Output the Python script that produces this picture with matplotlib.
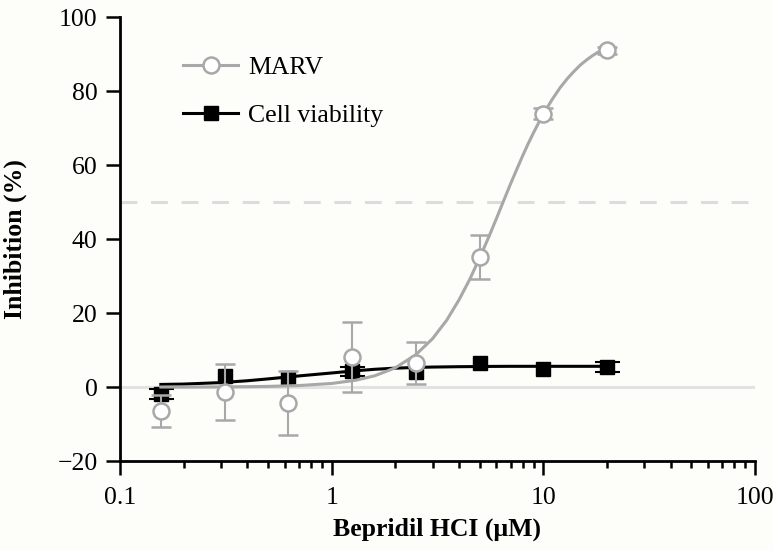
import matplotlib
matplotlib.use('Agg')
import matplotlib.pyplot as plt
from matplotlib.lines import Line2D
from matplotlib.ticker import FixedLocator, LogLocator, NullFormatter

# measured points (concentration in uM)
conc = [0.156, 0.3125, 0.625, 1.25, 2.5, 5, 10, 20]
marv_mean = [-6.5, -1.4, -4.3, 8.1, 6.5, 35.2, 73.9, 91.0]
marv_err = [4.3, 7.5, 8.6, 9.4, 5.6, 6.0, 1.5, 1.0]
cell_mean = [-1.8, 2.9, 2.4, 4.3, 4.1, 6.6, 4.8, 5.4]
cell_err = [1.4, 0.5, 0.5, 1.2, 0.5, 0.5, 0.5, 1.3]

# fitted curves
curve_x = [0.156, 0.2, 0.3, 0.4, 0.5, 0.7, 1.0, 1.3, 1.6, 2.0, 2.5, 3.0, 3.5, 4.0,
           4.5, 5.0, 5.5, 6.0, 6.5, 7.0, 7.5, 8.0, 8.5, 9.0, 9.5, 10, 11, 12, 13, 14,
           15, 16, 17, 18, 19, 20]
marv_fit = [0.0, 0.0, 0.05, 0.1, 0.17, 0.4, 0.96, 1.84, 3.05, 5.2, 8.75, 13.1, 18.1, 23.6,
            29.2, 34.9, 40.3, 45.5, 50.4, 54.9, 58.9, 62.6, 65.9, 68.8, 71.4, 73.8, 77.7,
            80.9, 83.4, 85.4, 87.1, 88.4, 89.5, 90.4, 91.2, 91.9]
cell_fit = [0.7, 0.8, 1.2, 1.7, 2.2, 3.0, 3.8, 4.4, 4.8, 5.1, 5.3, 5.4, 5.45, 5.5,
            5.52, 5.55, 5.57, 5.58, 5.59, 5.6, 5.6, 5.6, 5.6, 5.6, 5.6, 5.6, 5.6,
            5.6, 5.6, 5.6, 5.6, 5.6, 5.6, 5.6, 5.6, 5.6]

x_ticks = [0.1, 1, 10, 100]
x_tick_labels = ['0.1', '1', '10', '100']
y_ticks = [-20, 0, 20, 40, 60, 80, 100]

grey = '#a8a8a8'
bg = '#fdfdfa'
fs = 18.5

plt.rcParams['font.family'] = ['Liberation Serif', 'DejaVu Serif']
plt.rcParams['axes.unicode_minus'] = True

fig = plt.figure(figsize=(7.73, 5.51), dpi=100, facecolor=bg)
ax = fig.add_axes([0.1552, 0.1633, 0.8215, 0.8057], facecolor=bg)

# reference lines
ax.axhline(0, color='#e2e2e0', lw=2.2, zorder=1)
ax.axhline(50, color='#dcdcda', lw=2.2, dashes=(5.5, 4.5), zorder=1)

# cell viability - bars smaller than the marker are hidden behind it
ax.plot(curve_x, cell_fit, color='black', lw=2.2, zorder=3)
shown = [i for i, e in enumerate(cell_err) if e > 1.0]
ax.errorbar([conc[i] for i in shown], [cell_mean[i] for i in shown],
            yerr=[cell_err[i] for i in shown], fmt='none', ecolor='black',
            elinewidth=1.5, capsize=9, capthick=1.5, zorder=3)
ax.plot(conc, cell_mean, 's', color='black', ms=9.5, zorder=4)

# MARV
ax.plot(curve_x, marv_fit, color=grey, lw=2.2, zorder=5)
ax.errorbar(conc, marv_mean, yerr=marv_err, fmt='o', color=grey, mfc='white', mec=grey,
            mew=1.8, ms=11.5, elinewidth=1.5, capsize=7.5, capthick=1.5, zorder=6)

ax.set_xscale('log')
ax.set_xlim(0.1, 100)
ax.set_ylim(-20, 100)
ax.xaxis.set_major_locator(FixedLocator(x_ticks))
ax.set_xticklabels(x_tick_labels)
ax.xaxis.set_minor_locator(LogLocator(base=10, subs=range(2, 10)))
ax.xaxis.set_minor_formatter(NullFormatter())
ax.set_yticks(y_ticks)

for side in ['top', 'right']:
    ax.spines[side].set_visible(False)
for side in ['left', 'bottom']:
    ax.spines[side].set_linewidth(2.0)

ax.tick_params(which='major', length=10, width=1.8, labelsize=fs, pad=6, direction='out')
ax.tick_params(which='minor', length=5, width=1.8)
ax.tick_params(axis='x', which='major', pad=9)

ax.set_xlabel('Bepridil HCI (\u03bcM)', fontsize=fs, fontweight='bold', labelpad=6)
ax.set_ylabel('Inhibition (%)', fontsize=fs, fontweight='bold', labelpad=22)

# legend with proxy handles
handles = [
    Line2D([], [], color=grey, lw=2.2, marker='o', ms=11.5, mfc='white', mec=grey, mew=1.8),
    Line2D([], [], color='black', lw=2.2, marker='s', ms=9.5),
]
ax.legend(handles, ['MARV', 'Cell viability'], loc='upper left', bbox_to_anchor=(0.0992, 0.912),
          frameon=False, fontsize=fs, handlelength=2.15, handletextpad=0.4, labelspacing=0.95,
          borderpad=0, borderaxespad=0)

fig.savefig('out.png', dpi=100, facecolor=bg)
